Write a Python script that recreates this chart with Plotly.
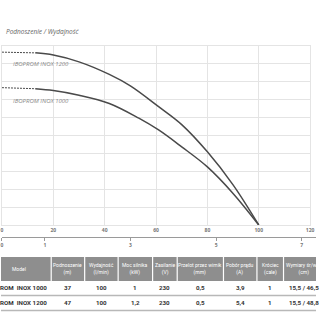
import plotly.graph_objects as go

# ---------------- data ----------------
flow_1200 = [13, 20, 30, 41.8, 50, 61, 70, 80, 90, 100]
head_1200 = [48.0, 47.4, 45.5, 42.0, 38.8, 33.0, 28.0, 20.4, 11.2, 0]
flow_1200_dash = [0, 13]
head_1200_dash = [48.2, 48.0]

flow_1000 = [13, 20, 30, 41.8, 53.3, 61, 70, 80, 90, 100]
head_1000 = [38.0, 37.5, 36.2, 33.9, 29.8, 26.5, 21.8, 16.2, 8.8, 0]
flow_1000_dash = [0, 13]
head_1000_dash = [38.3, 38.0]

x_ticks = [0, 20, 40, 60, 80, 100, 120]
m3h_ticks = [0, 1, 3, 5, 7]

series_names = ["IBOPROM INOX 1200", "IBOPROM INOX 1000"]
title_text = "Podnoszenie / Wydajność"

table_headers = ["Model", "Podnoszenie<br>(m)", "Wydajność<br>(l/min)", "Moc silnika<br>(kW)",
                 "Zasilanie<br>(V)", "Przelot przez wirnik<br>(mm)", "Pobór prądu<br>(A)",
                 "Króciec<br>(cale)", "Wymiary śr/wys<br>(cm)"]
models = ["IBOPROM  INOX 1000", "IBOPROM  INOX 1200"]
lift = ["37", "47"]
flow = ["100", "100"]
power = ["1", "1,2"]
voltage = ["230", "230"]
passage = ["0,5", "0,5"]
current = ["3,9", "5,4"]
outlet = ["1", "1"]
dims = ["15,5 / 46,5", "15,5 / 48,8"]

# ---------------- layout helpers ----------------
W = H = 320
def px(x):
    return x / W
def py(y):
    return 1 - y / H

GRID = "#e4e4e4"
CURVE = "#4a4a4a"
TFONT = "Roboto"

fig = go.Figure()

for fx, hy, fdx, hdy in [(flow_1200, head_1200, flow_1200_dash, head_1200_dash),
                         (flow_1000, head_1000, flow_1000_dash, head_1000_dash)]:
    fig.add_trace(go.Scatter(x=fdx, y=hdy, mode="lines", line=dict(color=CURVE, width=1, dash="2px,1px"),
                             showlegend=False, hoverinfo="skip"))
    fig.add_trace(go.Scatter(x=fx, y=hy, mode="lines", line=dict(color=CURVE, width=1.5, shape="spline"),
                             showlegend=False, hoverinfo="skip"))

# dummy trace for secondary axis
fig.add_trace(go.Scatter(x=[0], y=[0], xaxis="x2", yaxis="y2", mode="markers",
                         marker=dict(opacity=0), showlegend=False, hoverinfo="skip"))

# curve labels
label_pos = [(3.5, 44.8), (3.5, 34.6)]
for name, (lx, ly) in zip(series_names, label_pos):
    fig.add_annotation(x=lx, y=ly, xref="x", yref="y", text=name, showarrow=False,
                       xanchor="left", yanchor="middle",
                       font=dict(family="Open Sans", size=6, color="#8a8a8a", style="italic"))

# title
fig.add_annotation(x=px(3), y=py(32), xref="paper", yref="paper", text=title_text, showarrow=False,
                   xanchor="left", yanchor="middle",
                   font=dict(family="Open Sans", size=6.5, color="#666666", style="italic"))

# ---------------- table ----------------
shapes = []
shapes.append(dict(type="rect", xref="paper", yref="paper", x0=px(0), x1=px(320), y0=py(281), y1=py(257),
                   fillcolor="#8e8e8e", line=dict(width=0), layer="above"))
for sx in [51, 85, 119, 154, 179, 226, 260, 287]:
    shapes.append(dict(type="line", xref="paper", yref="paper", x0=px(sx), x1=px(sx), y0=py(281), y1=py(257),
                       line=dict(color="white", width=1.2), layer="above"))
for ly in [295.5, 310.5]:
    shapes.append(dict(type="line", xref="paper", yref="paper", x0=px(0), x1=px(320), y0=py(ly), y1=py(ly),
                       line=dict(color="#b8b8b8", width=1.5), layer="above"))

col_centers = [18, 68, 102, 136.5, 166.5, 202.5, 243, 273.5, 308]
for cx, txt in zip(col_centers, table_headers):
    fig.add_annotation(x=px(cx), y=py(269), xref="paper", yref="paper", text=txt, showarrow=False,
                       xanchor="center", yanchor="middle", align="center",
                       font=dict(family=TFONT, size=5, color="white"))

rows_y = [288, 303]
columns = [lift, flow, power, voltage, passage, current, outlet, dims]
for ri, ry in enumerate(rows_y):
    fig.add_annotation(x=px(48.5), y=py(ry), xref="paper", yref="paper", text=models[ri], showarrow=False,
                       xanchor="right", yanchor="middle",
                       font=dict(family=TFONT, size=6.2, color="#333333", weight="bold"))
    for cx, col in zip(col_centers[1:], columns):
        fig.add_annotation(x=px(cx), y=py(ry), xref="paper", yref="paper", text=col[ri], showarrow=False,
                           xanchor="center", yanchor="middle",
                           font=dict(family=TFONT, size=6.2, color="#333333", weight="bold"))

fig.update_layout(
    width=W, height=H,
    margin=dict(l=0, r=0, t=0, b=0),
    paper_bgcolor="white", plot_bgcolor="white",
    shapes=shapes,
    xaxis=dict(domain=[px(1), px(314)], range=[0, 120], tickvals=x_ticks,
               showgrid=True, gridcolor=GRID, gridwidth=1.3, zeroline=False,
               showline=True, mirror=True, linecolor=GRID, linewidth=1.3,
               ticks="", ticklabeloverflow="allow",
               tickfont=dict(family="Open Sans", size=5, color="#777777", weight="bold"),
               fixedrange=True),
    yaxis=dict(domain=[py(225), py(45.7)], range=[0, 50], dtick=5,
               showgrid=True, gridcolor=GRID, gridwidth=1.3, zeroline=False,
               showline=True, mirror=True, linecolor=GRID, linewidth=1.3,
               showticklabels=False, ticks="", fixedrange=True),
    xaxis2=dict(domain=[px(1), px(320)], range=[0, 319 / 43.5], anchor="y2",
                tickvals=m3h_ticks, showgrid=False, zeroline=False,
                showline=True, linecolor="#9a9a9a", linewidth=1,
                ticks="outside", ticklen=3, tickcolor="#9a9a9a", ticklabeloverflow="allow",
                tickfont=dict(family="Open Sans", size=5, color="#777777", weight="bold"),
                fixedrange=True),
    yaxis2=dict(domain=[py(237), py(236)], visible=False, fixedrange=True),
)

fig.write_html("out.html")
